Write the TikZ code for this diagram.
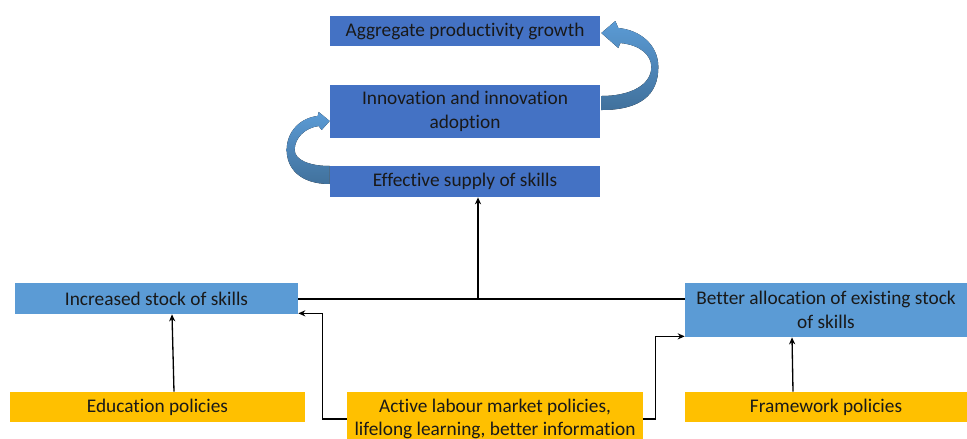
\documentclass[tikz,border=0pt]{standalone}
\usepackage{fontspec}
\setmainfont{Carlito}[Ligatures=NoCommon]
\usetikzlibrary{positioning, arrows.meta}

\definecolor{darkblue}{HTML}{4472C4}
\definecolor{lightblue}{HTML}{5B9BD5}
\definecolor{shadeblue}{HTML}{41719C}
\definecolor{policyyellow}{HTML}{FFC000}

\tikzset{
  box/.style={rectangle, inner sep=2pt, align=center, text=black!90,
    font=\fontsize{11}{13.6}\selectfont},
  topbox/.style={box, fill=darkblue, minimum width=5.4cm},
  midbox/.style={box, fill=lightblue},
  policy/.style={box, fill=policyyellow},
  link/.style={-{Stealth[length=4pt,width=3.5pt]}, line width=0.75pt},
  loop/.style={top color=lightblue, bottom color=shadeblue, draw=none}
}

\begin{document}
\begin{tikzpicture}[x=0.02cm, y=-0.02cm, on grid]
	\useasboundingbox (0,0) rectangle (967,439);

	% outcomes
	\node[topbox, minimum height=0.62cm] (eff) at (465,181.5) {Effective supply of skills};
	\node[topbox, minimum height=1.06cm, above=1.4cm of eff] (inn) {Innovation and innovation\\adoption};
	\node[topbox, minimum height=0.6cm, above=1.61cm of inn] (agg) {Aggregate productivity growth};

	\node[midbox, minimum width=5.66cm, minimum height=0.62cm] (inc) at (156.5,298.5) {Increased stock of skills};
	\node[midbox, minimum width=5.64cm, minimum height=1.08cm] (bet) at (826,310) {Better allocation of existing stock\\of skills};

	% policies
	\node[policy, minimum width=5.9cm, minimum height=0.6cm] (edu) at (157.5,407) {Education policies};
	\node[policy, minimum width=5.92cm, minimum height=1.08cm] (alm) at (495,419) {Active labour market policies,\\lifelong learning, better information};
	\node[policy, minimum width=5.64cm, minimum height=0.6cm] (fw) at (826,407) {Framework policies};

	% links
	\coordinate (j) at (478,299);
	\draw[line width=0.75pt] (inc.east |- j) -- (bet.west |- j);
	\draw[link] (j) -- (j |- eff.south);
	\draw[link] ([xshift=0.33cm]edu.north) -- ([xshift=0.31cm]inc.south);
	\draw[link] ([xshift=-0.66cm]fw.north) -- ([xshift=-0.68cm]bet.south);
	\draw[link] (alm.west) -- ++(-24,0) |- ([yshift=0.02cm]inc.south east);
	\draw[link] (alm.east) -- ++(12,0) |- ([yshift=0.02cm]bet.south west);

	% curved block arrows
	\begin{scope}[shift={(inn.east)}]
		\fill[loop] (1,-1.5) .. controls (40,-1.5) and (58,-16.5) .. (58,-44.5)
			.. controls (58,-66.5) and (40,-81.5) .. (18,-83.5)
			-- (15,-90.5) -- (1,-78.5) -- (18,-63.5) -- (20,-68.5)
			.. controls (40,-66.5) and (51,-56.5) .. (51,-44.5)
			.. controls (51,-26.5) and (30,-15.5) .. (1,-15.5) -- cycle;
	\end{scope}
	\begin{scope}[shift={(eff.west)}]
		\fill[loop] (0,2.5) .. controls (-30,2.5) and (-43,-13.5) .. (-43,-31.5)
			.. controls (-43,-49.5) and (-30,-63.5) .. (-12,-65.5)
			-- (-11,-69.5) -- (0,-60.5) -- (-8,-51.5) -- (-11,-55.5)
			.. controls (-25,-53.5) and (-35,-43.5) .. (-35,-31.5)
			.. controls (-35,-21.5) and (-20,-15.5) .. (0,-15.5) -- cycle;
	\end{scope}
\end{tikzpicture}
\end{document}
